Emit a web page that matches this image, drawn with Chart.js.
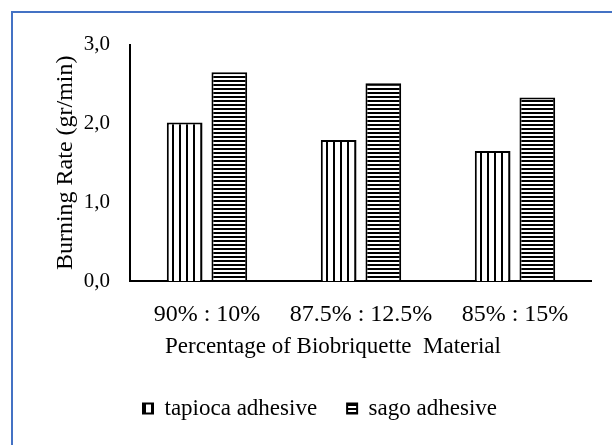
<!DOCTYPE html>
<html>
<head>
<meta charset="utf-8">
<script src="https://cdn.jsdelivr.net/npm/chart.js@4"></script>
<style>
  html, body { margin: 0; padding: 0; background: #fff; overflow: hidden; }
  body { width: 612px; height: 445px; position: relative; }
  #frame { position: absolute; left: 11px; top: 11px; width: 640px; height: 480px; border: 2px solid #4472C4; box-sizing: border-box; }
  #wrap { position: absolute; left: 48px; top: 12px; width: 544px; height: 433px; }
</style>
</head>
<body>
<div id="frame"></div>
<div id="wrap"><canvas id="myChart"></canvas></div>
<script>
// data
var categories = ['90% : 10%', '87.5% : 12.5%', '85% : 15%'];
var tapioca = [2.01, 1.79, 1.65];
var sago = [2.65, 2.51, 2.33];
var yTicks = [0, 1, 2, 3];
var xTitle = 'Percentage of Biobriquette  Material';

// bar fill patterns
function vertStripes() {
    var c = document.createElement('canvas');
    c.width = 7; c.height = 4;
    var g = c.getContext('2d');
    g.fillStyle = '#fff'; g.fillRect(0, 0, 7, 4);
    g.fillStyle = '#000'; g.fillRect(5, 0, 2, 4);
    return g.createPattern(c, 'repeat');
}
function horizStripes() {
    var c = document.createElement('canvas');
    c.width = 4; c.height = 4;
    var g = c.getContext('2d');
    g.fillStyle = '#fff'; g.fillRect(0, 0, 4, 4);
    g.fillStyle = '#000'; g.fillRect(0, 0, 4, 2);
    return g.createPattern(c, 'repeat');
}

var serif = '"Liberation Serif", "Times New Roman", serif';

// x axis title sits left of the plot centre in the original, so draw it here
var xTitlePlugin = {
    id: 'xTitle',
    afterDraw: function (chart) {
        var c = chart.ctx;
        c.save();
        c.fillStyle = '#000';
        c.font = '23px ' + serif;
        c.textAlign = 'center';
        c.textBaseline = 'middle';
        c.fillText(xTitle, 285, 335);
        c.restore();
    }
};

var ctx = document.getElementById('myChart').getContext('2d');
var chart = new Chart(ctx, {
    type: 'bar',
    data: {
        labels: categories,
        datasets: [{
            label: 'tapioca adhesive',
            data: tapioca,
            backgroundColor: vertStripes(),
            borderColor: '#000',
            borderWidth: 2
        }, {
            label: 'sago adhesive',
            data: sago,
            backgroundColor: horizStripes(),
            borderColor: '#000',
            borderWidth: 2
        }]
    },
    plugins: [xTitlePlugin],
    options: {
        responsive: true,
        maintainAspectRatio: false,
        animation: false,
        devicePixelRatio: 1,
        layout: { padding: { left: 0, right: 0, top: 31, bottom: 15 } },
        datasets: { bar: { barPercentage: 0.8, categoryPercentage: 0.58 } },
        plugins: {
            tooltip: { enabled: false },
            legend: {
                position: 'bottom',
                labels: {
                    color: '#000',
                    font: { family: serif, size: 23 },
                    boxWidth: 10,
                    boxHeight: 10,
                    padding: 30
                }
            }
        },
        scales: {
            x: {
                grid: { display: false, drawTicks: false },
                border: { color: '#000', width: 2 },
                ticks: { color: '#000', font: { family: serif, size: 24 }, padding: 19 },
                afterFit: function (s) { s.height = 86; }
            },
            y: {
                min: 0,
                max: 3,
                grid: { display: false, drawTicks: false },
                border: { color: '#000', width: 2 },
                afterBuildTicks: function (s) { s.ticks = yTicks.map(function (v) { return { value: v }; }); },
                ticks: {
                    color: '#000',
                    font: { family: serif, size: 21 },
                    padding: 20,
                    callback: function (v) { return v.toFixed(1).replace('.', ','); }
                },
                title: {
                    display: true,
                    text: 'Burning Rate (gr/min)',
                    color: '#000',
                    font: { family: serif, size: 24 },
                    padding: { top: 3, bottom: 0 }
                },
                afterFit: function (s) { s.width = 82; }
            }
        }
    }
});
</script>
</body>
</html>
